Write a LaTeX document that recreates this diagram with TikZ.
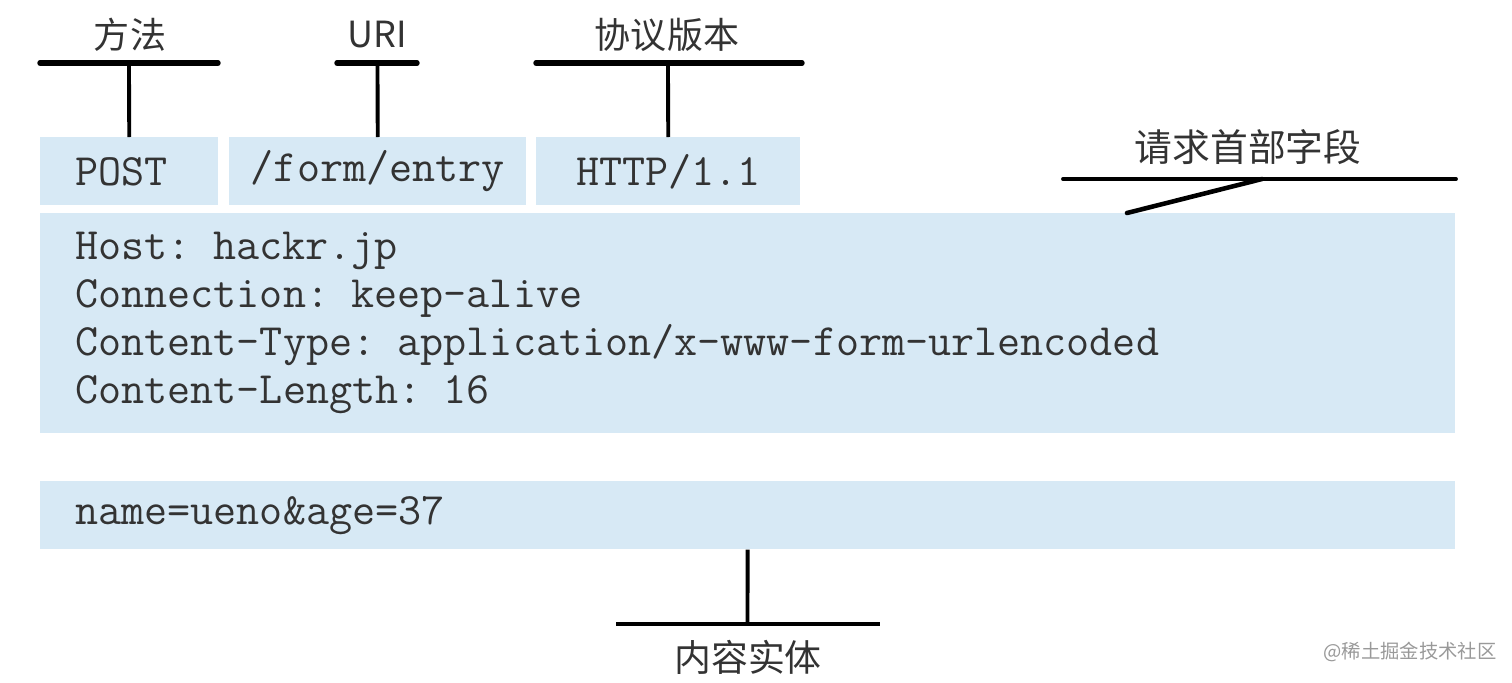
\documentclass[tikz,border=0pt]{standalone}
\usepackage{fontspec}
\newfontfamily\cjk{Noto Sans CJK SC}
\usetikzlibrary{positioning, calc}

\definecolor{fieldblue}{RGB}{215,233,245}

\begin{document}
\begin{tikzpicture}[
    x=0.02cm, y=-0.02cm, % 1单位 = 1像素
    every node/.style={inner sep=0pt}, % 统一
    fieldbox/.style={fill=fieldblue, minimum height=1.36cm, anchor=north west,
        text=black!80, font=\ttfamily\fontsize{25.5}{27}\selectfont}, % 请求行字段
    blockbox/.style={fill=fieldblue, minimum width=28.3cm, anchor=north west,
        text width=26.9cm, align=left, inner xsep=0.7cm, text=black!80,
        font=\ttfamily\fontsize{25.5}{27.3}\selectfont}, % 首部/实体
    tag/.style={font=\cjk\fontsize{20.5}{24}\selectfont, text=black!80}, % 标注文字
    bar/.style={black, line width=3.1pt, line cap=round}, % 横线(粗)
    stem/.style={black, line width=2.2pt} % 竖线
]
    \useasboundingbox (0,0) rectangle (1512,683);

    % 1. 请求行:方法、URI、协议版本
    \node[fieldbox, minimum width=3.56cm, text width=2.16cm, inner xsep=0.7cm, align=left] (method) at (40,137) {POST};
    \node[fieldbox, minimum width=5.94cm] (uri) at (229,137) {/form/entry};
    \node[fieldbox, minimum width=5.28cm] (version) at (536,137) {HTTP/1.1};

    % 2. 首部字段和内容实体
    \node[blockbox, minimum height=4.4cm] (header) at (40,213)
        {Host: hackr.jp\\Connection: keep-alive\\Content-Type: application/x-www-form-urlencoded\\Content-Length: 16};
    \node[blockbox, minimum height=1.36cm] (body) at (40,481) {name=ueno\&age=37};

    % 3. 上方标注(T形)
    \node[tag] (tmethod) at (130,35) {方法};
    \coordinate (mleft) at (40,63);  \coordinate (mright) at (218,63);
    \coordinate (mtop) at (129,63);
    \draw[bar] (mleft) -- (mright);
    \draw[stem] (method) -- (mtop);

    \node[tag] (turi) at (377,35) {URI};
    \coordinate (uleft) at (337,63); \coordinate (uright) at (417,63);
    \coordinate (utop) at (377.5,63);
    \draw[bar] (uleft) -- (uright);
    \draw[stem] (uri) -- (utop);

    \node[tag] (tversion) at (667,35) {协议版本};
    \coordinate (vleft) at (536,63); \coordinate (vright) at (802,63);
    \coordinate (vtop) at (668,63);
    \draw[bar] (vleft) -- (vright);
    \draw[stem] (version) -- (vtop);

    % 4. 请求首部字段(斜线)
    \node[tag, font=\cjk\fontsize{21.5}{24}\selectfont] (theader) at (1248,147) {请求首部字段};
    \coordinate (hleft) at (1063,179); \coordinate (hright) at (1456,179);
    \coordinate (hjoin) at (1262,179); \coordinate (hfoot) at (1127,213);
    \draw[stem, line cap=round] (hleft) -- (hright);
    \draw[bar, line width=2.6pt] (hfoot) -- (hjoin);

    % 5. 内容实体(倒T形)
    \coordinate (cbot) at (747.5,624);
    \coordinate (cleft) at (616,624); \coordinate (cright) at (880,624);
    \draw[stem] (body) -- (cbot);
    \draw[stem] (cleft) -- (cright);
    \node[tag, font=\cjk\fontsize{21}{24}\selectfont] (tbody) at (748,657) {内容实体};

    % 水印
    \node[font=\cjk\fontsize{11}{13}\selectfont, text=black!40] (mark) at (1410,652) {@稀土掘金技术社区};
\end{tikzpicture}
\end{document}
